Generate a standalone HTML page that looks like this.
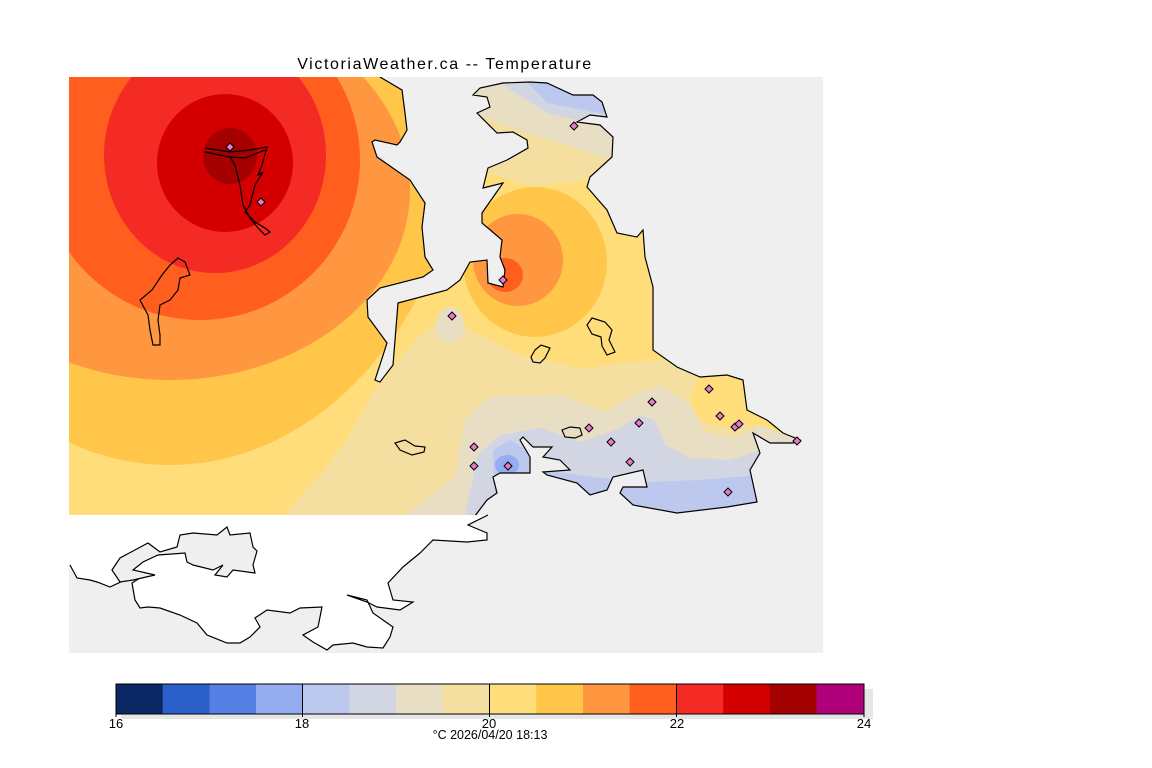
<!DOCTYPE html>
<html><head><meta charset="utf-8"><style>
html,body{margin:0;padding:0;background:#fff;width:1152px;height:768px;overflow:hidden}
svg{display:block}
text{font-family:"Liberation Sans",sans-serif}
</style></head><body>
<svg width="1152" height="768" viewBox="0 0 1152 768" xmlns="http://www.w3.org/2000/svg">
<defs><clipPath id="dc"><rect x="69" y="77" width="754" height="438"/></clipPath>
<clipPath id="mc"><rect x="69" y="77" width="754" height="576"/></clipPath></defs>
<rect x="69" y="77" width="754" height="576" fill="#efefef"/>
<g clip-path="url(#dc)">
<rect x="69" y="77" width="754" height="438" fill="#ffdd7a"/>
<!-- left system -->
<ellipse cx="170" cy="80" rx="300" ry="385" fill="#ffc64a"/>
<ellipse cx="170" cy="190" rx="240" ry="190" fill="#ff9640"/>
<ellipse cx="200" cy="160" rx="160" ry="160" fill="#ff5e1e"/>
<ellipse cx="215" cy="155" rx="111" ry="118" fill="#f42a24"/>
<ellipse cx="225" cy="163" rx="68" ry="69" fill="#d40000"/>
<ellipse cx="230" cy="156" rx="27" ry="28" fill="#a50000"/>
<!-- right top bands -->
<path d="M440,77 L440,170 L487,173 L533,187 L587,180 L630,170 L630,77 Z" fill="#f5dfa0"/>
<path d="M440,77 L440,110 L483,117 L527,133 L567,145 L610,160 L630,165 L630,77 Z" fill="#e8dec4"/>
<path d="M480,77 L503,85 L547,113 L607,127 L630,130 L630,77 Z" fill="#d2d6e2"/>
<path d="M520,77 L527,82 L547,103 L600,113 L630,118 L630,77 Z" fill="#bcc8ee"/>
<!-- right orange system -->
<ellipse cx="535" cy="262" rx="72" ry="75" fill="#ffc64a"/>
<ellipse cx="518" cy="260" rx="45" ry="46" fill="#ff9640"/>
<ellipse cx="505" cy="275" rx="18" ry="17" fill="#ff5e1e"/>
<!-- bottom tan -->
<path d="M285,515 L340,450 L375,390 L420,335 L450,315 L470,330 L520,355 L580,368 L640,362 L680,357 L700,370 L690,400 L700,420 L735,430 L745,420 L760,445 L823,470 L823,515 Z" fill="#f5dfa0"/>
<ellipse cx="450" cy="325" rx="14" ry="18" fill="#e8dec4"/>
<path d="M405,515 L455,478 L465,420 L490,397 L560,395 L605,412 L635,395 L660,385 L690,405 L705,432 L735,438 L760,425 L800,440 L823,450 L823,515 Z" fill="#e8dec4"/>
<path d="M465,515 L478,455 L500,435 L540,428 L580,442 L615,430 L640,416 L655,420 L665,445 L690,458 L730,460 L760,450 L780,440 L800,445 L823,445 L823,515 Z" fill="#d2d6e2"/>
<path d="M495,500 L493,450 L510,440 L530,452 L530,480 Z" fill="#bcc8ee"/>
<path d="M540,470 L600,478 L650,482 L700,480 L760,475 L780,500 L760,515 L540,515 Z" fill="#bcc8ee"/>
<ellipse cx="507" cy="465" rx="12" ry="10" fill="#94acf0"/>
<!-- water -->
<path d="M380,77 L402,90 L405,113 L407,130 L400,142 L397,145 L375,140 L372,142 L377,157 L410,180 L425,203 L422,227 L425,257 L433,270 L423,277 L380,288 L367,300 L368,317 L387,343 L375,380 L380,382 L393,365 L398,303 L447,290 L460,280 L470,262 L487,260 L488,283 L503,287 L505,270 L500,257 L502,240 L482,223 L482,213 L503,183 L483,188 L488,168 L507,160 L528,148 L527,140 L513,132 L497,133 L477,113 L490,107 L487,97 L473,95 L480,88 L503,83 L530,82 L547,83 L573,95 L593,95 L602,102 L607,117 L590,115 L577,122 L600,125 L613,137 L612,157 L590,177 L587,187 L607,210 L617,233 L637,237 L643,230 L645,257 L653,287 L653,350 L677,367 L700,377 L727,375 L743,380 L747,410 L767,420 L783,433 L800,440 L793,443 L770,443 L753,433 L760,453 L750,470 L757,502 L727,507 L677,513 L633,505 L620,493 L623,487 L647,487 L643,470 L613,477 L607,490 L590,495 L577,483 L547,475 L543,472 L570,470 L560,460 L543,457 L552,447 L533,447 L523,437 L520,440 L530,457 L530,473 L500,473 L493,477 L497,493 L487,500 L477,515 L823,515 L823,77 Z" fill="#efefef"/>
</g>
<g clip-path="url(#mc)" fill="none" stroke="#000" stroke-width="1.2">
<path d="M380,77 L402,90 L405,113 L407,130 L400,142 L397,145 L375,140 L372,142 L377,157 L410,180 L425,203 L422,227 L425,257 L433,270 L423,277 L380,288 L367,300 L368,317 L387,343 L375,380 L380,382 L393,365 L398,303 L447,290 L460,280 L470,262 L487,260 L488,283 L503,287 L505,270 L500,257 L502,240 L482,223 L482,213 L503,183 L483,188 L488,168 L507,160 L528,148 L527,140 L513,132 L497,133 L477,113 L490,107 L487,97 L473,95 L480,88 L503,83 L530,82 L547,83 L573,95 L593,95 L602,102 L607,117 L590,115 L577,122 L600,125 L613,137 L612,157 L590,177 L587,187 L607,210 L617,233 L637,237 L643,230 L645,257 L653,287 L653,350 L677,367 L700,377 L727,375 L743,380 L747,410 L767,420 L783,433 L800,440 L793,443 L770,443 L753,433 L760,453 L750,470 L757,502 L727,507 L677,513 L633,505 L620,493 L623,487 L647,487 L643,470 L613,477 L607,490 L590,495 L577,483 L547,475 L543,472 L570,470 L560,460 L543,457 L552,447 L533,447 L523,437 L520,440 L530,457 L530,473 L500,473 L493,477 L497,493 L487,500 L468,525"/>
<path d="M205,148 L230,152 L250,150 L267,147 L262,165 L258,175 L263,172 L255,185 L250,205 L245,212 L255,222 L265,228 L270,232 L265,235 L258,228 L250,218 L243,205 L240,185 L235,165 L230,157 L205,152"/>
<path d="M230,157 L245,158 L265,150"/>
<path d="M178,258 L185,262 L190,275 L180,278 L178,290 L170,300 L160,305 L158,320 L160,335 L160,345 L153,345 L150,330 L148,315 L140,300 L152,290 L162,275 L170,265 Z"/>
<path d="M395,443 L405,440 L415,446 L425,447 L424,452 L412,455 L400,450 Z"/>
<path d="M531,357 L535,350 L541,345 L550,348 L545,358 L540,363 L533,362 Z"/>
<path d="M587,325 L592,318 L605,322 L612,330 L609,340 L615,352 L607,355 L602,346 L601,337 L592,334 Z"/>
<path d="M562,430 L570,427 L580,428 L582,435 L575,438 L565,437 Z"/>
</g>
<!-- south land -->
<path d="M69,515 L488,515 L468,525 L487,533 L487,540 L467,542 L433,540 L420,553 L403,567 L388,583 L393,600 L413,602 L400,610 L377,607 L367,602 L347,595 L367,600 L373,613 L393,627 L390,637 L383,648 L367,647 L353,643 L333,645 L327,650 L313,642 L303,635 L318,627 L322,607 L300,608 L290,613 L267,610 L255,618 L260,627 L250,637 L240,643 L227,643 L207,635 L197,623 L180,615 L160,608 L148,607 L140,608 L135,600 L132,583 L140,578 L125,580 L110,587 L97,582 L90,580 L77,578 L70,565 L69,565 Z" fill="#fff" stroke="none"/>
<path d="M488,515 L468,525 L487,533 L487,540 L467,542 L433,540 L420,553 L403,567 L388,583 L393,600 L413,602 L400,610 L377,607 L367,602 L347,595 L367,600 L373,613 L393,627 L390,637 L383,648 L367,647 L353,643 L333,645 L327,650 L313,642 L303,635 L318,627 L322,607 L300,608 L290,613 L267,610 L255,618 L260,627 L250,637 L240,643 L227,643 L207,635 L197,623 L180,615 L160,608 L148,607 L140,608 L135,600 L132,583 L140,578 L125,580 L110,587 L97,582 L90,580 L77,578 L70,565" fill="none" stroke="#000" stroke-width="1.2"/>
<path d="M112,570 L120,558 L148,543 L160,552 L177,547 L180,535 L193,533 L217,535 L227,527 L230,535 L250,533 L253,547 L257,551 L253,565 L255,573 L233,570 L227,577 L215,575 L223,565 L213,570 L193,565 L187,562 L185,553 L158,555 L143,562 L133,570 L155,575 L133,580 L120,582 Z" fill="#efefef" stroke="#000" stroke-width="1.2"/>
<!-- stations -->
<g fill="#e878c8" stroke="#000" stroke-width="1">
<path d="M230,143 l4,4 l-4,4 l-4,-4 z"/><path d="M261,198 l4,4 l-4,4 l-4,-4 z"/>
<path d="M574,122 l4,4 l-4,4 l-4,-4 z"/><path d="M503,276 l4,4 l-4,4 l-4,-4 z"/>
<path d="M452,312 l4,4 l-4,4 l-4,-4 z"/><path d="M709,385 l4,4 l-4,4 l-4,-4 z"/>
<path d="M652,398 l4,4 l-4,4 l-4,-4 z"/><path d="M720,412 l4,4 l-4,4 l-4,-4 z"/>
<path d="M589,424 l4,4 l-4,4 l-4,-4 z"/><path d="M639,419 l4,4 l-4,4 l-4,-4 z"/>
<path d="M611,438 l4,4 l-4,4 l-4,-4 z"/><path d="M735,423 l4,4 l-4,4 l-4,-4 z"/>
<path d="M739,420 l4,4 l-4,4 l-4,-4 z"/><path d="M474,443 l4,4 l-4,4 l-4,-4 z"/>
<path d="M474,462 l4,4 l-4,4 l-4,-4 z"/><path d="M508,462 l4,4 l-4,4 l-4,-4 z"/>
<path d="M630,458 l4,4 l-4,4 l-4,-4 z"/><path d="M797,437 l4,4 l-4,4 l-4,-4 z"/>
<path d="M728,488 l4,4 l-4,4 l-4,-4 z"/>
</g>
<text x="445" y="69" font-size="16" letter-spacing="1.6" text-anchor="middle" fill="#000">VictoriaWeather.ca -- Temperature</text>
<!-- colorbar -->
<rect x="121" y="689" width="752" height="30" fill="#e6e6e6"/>
<rect x="116" y="684" width="47" height="30" fill="#0b2864"/>
<rect x="162.7" y="684" width="47" height="30" fill="#2b5fca"/>
<rect x="209.4" y="684" width="47" height="30" fill="#5680e4"/>
<rect x="256.1" y="684" width="47" height="30" fill="#94acf0"/>
<rect x="302.8" y="684" width="47" height="30" fill="#bcc8ee"/>
<rect x="349.5" y="684" width="47" height="30" fill="#d2d6e2"/>
<rect x="396.2" y="684" width="47" height="30" fill="#e8dec4"/>
<rect x="442.9" y="684" width="47" height="30" fill="#f5dfa0"/>
<rect x="489.6" y="684" width="47" height="30" fill="#ffdd7a"/>
<rect x="536.3" y="684" width="47" height="30" fill="#ffc64a"/>
<rect x="583" y="684" width="47" height="30" fill="#ff9640"/>
<rect x="629.7" y="684" width="47" height="30" fill="#ff5e1e"/>
<rect x="676.4" y="684" width="47" height="30" fill="#f42a24"/>
<rect x="723.1" y="684" width="47" height="30" fill="#d40000"/>
<rect x="769.8" y="684" width="47" height="30" fill="#a50000"/>
<rect x="816.5" y="684" width="47.5" height="30" fill="#b0007a"/>
<rect x="116" y="684" width="748" height="30" fill="none" stroke="#000" stroke-width="1"/>
<g stroke="#000" stroke-width="1"><line x1="302.5" y1="684" x2="302.5" y2="717"/><line x1="489.5" y1="684" x2="489.5" y2="717"/><line x1="676.5" y1="684" x2="676.5" y2="717"/><line x1="116" y1="714" x2="116" y2="717"/><line x1="864" y1="714" x2="864" y2="717"/></g>
<g font-size="13" text-anchor="middle" fill="#000">
<text x="116" y="728">16</text><text x="302" y="728">18</text><text x="489" y="728">20</text><text x="677" y="728">22</text><text x="864" y="728">24</text>
<text x="490" y="739" font-size="12.5">°C  2026/04/20 18:13</text></g>
</svg>
</body></html>
